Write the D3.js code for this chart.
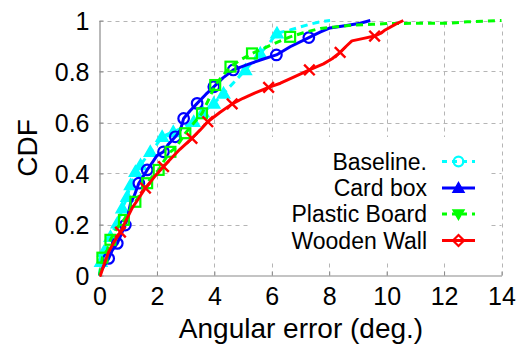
<!DOCTYPE html>
<html>
<head>
<meta charset="utf-8">
<script src="https://cdn.jsdelivr.net/npm/d3@7/dist/d3.min.js"></script>
<style>
  html, body { margin: 0; padding: 0; background: #fff; }
  svg { display: block; }
  text { font-family: "Liberation Sans", Arial, Helvetica, sans-serif; fill: #000; }
</style>
</head>
<body>
<svg id="chart" width="526" height="345"></svg>
<script>
// ---- Data ----
const seriesNames = ["Baseline.", "Card box", "Plastic Board", "Wooden Wall"];
const xTicks = [0, 2, 4, 6, 8, 10, 12, 14];
const yTicks = [0, 0.2, 0.4, 0.6, 0.8, 1];
const yTickLabels = ["0", "0.2", "0.4", "0.6", "0.8", "1"];

const baselineX = [0, 0.05, 0.15, 0.27, 0.38, 0.5, 0.62, 0.72, 0.79, 0.9, 0.96, 1.08, 1.18, 1.25, 1.43, 1.6, 1.77, 2.0, 2.18, 2.4, 2.57, 2.9, 3.28, 3.6, 3.98, 4.32, 4.7, 5.08, 5.35, 5.6, 5.9, 6.18, 6.64, 7.0, 7.34, 7.7, 8.03];
const baselineY = [0, 0.054, 0.093, 0.125, 0.152, 0.18, 0.205, 0.235, 0.264, 0.29, 0.309, 0.355, 0.38, 0.407, 0.433, 0.46, 0.485, 0.515, 0.544, 0.555, 0.563, 0.58, 0.603, 0.64, 0.675, 0.714, 0.76, 0.806, 0.84, 0.871, 0.91, 0.95, 0.963, 0.975, 0.986, 0.995, 1.0];
const baselineMarks = [1, 2, 4, 6, 8, 10, 11, 13, 14, 16, 18, 20, 22, 23, 24, 25, 27, 29, 31];

const cardX = [0, 0.03, 0.17, 0.32, 0.45, 0.62, 0.75, 0.9, 1.0, 1.08, 1.2, 1.37, 1.5, 1.66, 1.85, 2.0, 2.23, 2.4, 2.64, 2.82, 2.93, 3.15, 3.4, 3.7, 3.98, 4.3, 4.66, 5.1, 5.6, 6.16, 6.64, 7.29, 7.7, 8.03, 8.6, 9.08, 9.43];
const cardY = [0, 0.014, 0.04, 0.067, 0.1, 0.126, 0.16, 0.198, 0.24, 0.283, 0.31, 0.362, 0.385, 0.414, 0.445, 0.47, 0.485, 0.515, 0.544, 0.571, 0.616, 0.645, 0.675, 0.71, 0.74, 0.775, 0.806, 0.825, 0.845, 0.865, 0.897, 0.933, 0.955, 0.971, 0.98, 0.989, 1.0];
const cardMarks = [3, 5, 7, 11, 13, 16, 18, 20, 22, 24, 26, 29, 31];

const plasticX = [0, 0.1, 0.27, 0.38, 0.6, 0.85, 1.0, 1.1, 1.25, 1.45, 1.66, 1.85, 2.06, 2.25, 2.47, 2.64, 2.8, 2.99, 3.3, 3.57, 3.8, 4.03, 4.3, 4.56, 4.9, 5.31, 5.8, 6.2, 6.64, 7.1, 7.69, 8.3, 8.83, 9.5, 10.0, 11.0, 12.1, 12.8, 13.4, 14.0];
const plasticY = [0, 0.07, 0.1, 0.14, 0.185, 0.218, 0.245, 0.268, 0.289, 0.325, 0.362, 0.39, 0.414, 0.45, 0.485, 0.5, 0.525, 0.558, 0.6, 0.636, 0.69, 0.747, 0.785, 0.819, 0.845, 0.871, 0.895, 0.915, 0.936, 0.952, 0.969, 0.976, 0.982, 0.985, 0.988, 0.989, 0.989, 0.995, 0.997, 1.0];
const plasticMarks = [1, 3, 5, 8, 10, 12, 14, 17, 19, 21, 23, 25, 28];

const woodenX = [0, 0.03, 0.15, 0.32, 0.5, 0.73, 0.9, 1.14, 1.35, 1.6, 1.9, 2.23, 2.5, 2.8, 3.22, 3.5, 3.77, 4.2, 4.62, 5.0, 5.4, 5.89, 6.3, 6.8, 7.31, 7.8, 8.1, 8.38, 8.6, 8.79, 9.2, 9.58, 9.8, 9.95, 10.3, 10.58];
const woodenY = [0, 0.0, 0.04, 0.093, 0.13, 0.17, 0.21, 0.265, 0.3, 0.343, 0.385, 0.427, 0.46, 0.495, 0.538, 0.57, 0.603, 0.64, 0.673, 0.695, 0.715, 0.738, 0.754, 0.78, 0.806, 0.83, 0.85, 0.875, 0.9, 0.92, 0.93, 0.939, 0.95, 0.963, 0.985, 1.0];
const woodenMarks = [5, 9, 11, 14, 16, 18, 21, 24, 27, 31];

// ---- Setup ----
const svg = d3.select("#chart");
const x = d3.scaleLinear().domain([0, 14]).range([99.5, 501.5]);
const y = d3.scaleLinear().domain([0, 1]).range([275.5, 20.5]);

const series = [
  { name: seriesNames[0], xs: baselineX, ys: baselineY, marks: baselineMarks, color: "#00ffff", dash: "7,5", marker: "triUp", legendMarker: "circle" },
  { name: seriesNames[1], xs: cardX, ys: cardY, marks: cardMarks, color: "#0000ff", dash: null, marker: "circle", legendMarker: "triUp" },
  { name: seriesNames[2], xs: plasticX, ys: plasticY, marks: plasticMarks, color: "#00ff00", dash: "7,5", marker: "square", legendMarker: "triDown" },
  { name: seriesNames[3], xs: woodenX, ys: woodenY, marks: woodenMarks, color: "#ff0000", dash: null, marker: "cross", legendMarker: "diamond" }
];

// ---- Grid ----
const grid = svg.append("g").attr("stroke", "#b5b5b5").attr("stroke-width", 1).attr("stroke-dasharray", "4,4");
grid.selectAll("line.v").data(xTicks.filter(d => d > 0)).enter().append("line")
  .attr("x1", d => Math.round(x(d)) + 0.5).attr("x2", d => Math.round(x(d)) + 0.5)
  .attr("y1", y(0)).attr("y2", y(1));
grid.selectAll("line.h").data(yTicks.filter(d => d > 0)).enter().append("line")
  .attr("y1", d => Math.round(y(d)) + 0.5).attr("y2", d => Math.round(y(d)) + 0.5)
  .attr("x1", x(0)).attr("x2", x(14));

// ---- Axes ----
const xAxis = d3.axisBottom(x).tickValues(xTicks).tickSizeInner(-4).tickSizeOuter(0).tickPadding(12).tickFormat(d3.format("d"));
const yAxis = d3.axisLeft(y).tickValues(yTicks).tickSizeInner(-4).tickSizeOuter(0).tickPadding(10).tickFormat((d, i) => yTickLabels[i]);

const gx = svg.append("g").attr("transform", `translate(0,${y(0)})`).call(xAxis);
const gy = svg.append("g").attr("transform", `translate(${x(0)},0)`).call(yAxis);
[gx, gy].forEach(g => {
  g.select(".domain").attr("stroke", "#8a8a8a").attr("stroke-width", 1.2);
  g.selectAll(".tick line").attr("stroke", "#8a8a8a");
  g.selectAll(".tick text").attr("font-size", 25).attr("font-family", "Liberation Sans, Arial, sans-serif").attr("fill", "#000");
});
gy.selectAll(".tick text").attr("dy", "0.36em");

// ---- Axis titles ----
svg.append("text").attr("x", 301).attr("y", 338).attr("text-anchor", "middle")
  .attr("font-size", 28).text("Angular error (deg.)");
svg.append("text").attr("transform", "translate(37,148) rotate(-90)").attr("text-anchor", "middle")
  .attr("font-size", 28).text("CDF");

// ---- Markers ----
function drawMarker(g, type, cx, cy, color, s) {
  if (type === "circle") {
    g.append("circle").attr("cx", cx).attr("cy", cy).attr("r", s * 0.48)
      .attr("fill", "none").attr("stroke", color).attr("stroke-width", 2.2);
  } else if (type === "triUp") {
    const h = s * 0.55;
    g.append("path").attr("d", `M${cx},${cy - h} L${cx + h},${cy + h * 0.75} L${cx - h},${cy + h * 0.75} Z`)
      .attr("fill", color).attr("stroke", color).attr("stroke-width", 1.5);
  } else if (type === "triDown") {
    const h = s * 0.55;
    g.append("path").attr("d", `M${cx},${cy + h} L${cx + h},${cy - h * 0.75} L${cx - h},${cy - h * 0.75} Z`)
      .attr("fill", color).attr("stroke", color).attr("stroke-width", 1.5);
  } else if (type === "square") {
    const h = s * 0.45;
    g.append("rect").attr("x", cx - h).attr("y", cy - h).attr("width", 2 * h).attr("height", 2 * h)
      .attr("fill", "none").attr("stroke", color).attr("stroke-width", 2.2);
  } else if (type === "diamond") {
    const h = s * 0.55;
    g.append("path").attr("d", `M${cx},${cy - h} L${cx + h},${cy} L${cx},${cy + h} L${cx - h},${cy} Z`)
      .attr("fill", "none").attr("stroke", color).attr("stroke-width", 2.2);
  } else if (type === "cross") {
    const h = s * 0.48;
    g.append("path").attr("d", `M${cx - h},${cy - h} L${cx + h},${cy + h} M${cx - h},${cy + h} L${cx + h},${cy - h}`)
      .attr("fill", "none").attr("stroke", color).attr("stroke-width", 2.4);
  }
}

// ---- Lines ----
const line = d3.line().x(d => x(d[0])).y(d => y(d[1]));
const plot = svg.append("g");
series.forEach(s => {
  const pts = s.xs.map((v, i) => [v, s.ys[i]]);
  const g = plot.append("g");
  g.append("path").attr("d", line(pts)).attr("fill", "none")
    .attr("stroke", s.color).attr("stroke-width", 3)
    .attr("stroke-linejoin", "round")
    .attr("stroke-dasharray", s.dash);
  s.marks.forEach(i => drawMarker(g, s.marker, x(s.xs[i]), y(s.ys[i]), s.color, 11));
});

// ---- Legend ----
const leg = svg.append("g");
leg.append("rect").attr("x", 251).attr("y", 137).attr("width", 238).attr("height", 123).attr("fill", "#fff");
const legY = [161.5, 188, 214, 240.5];
series.forEach((s, i) => {
  const gy0 = legY[i];
  leg.append("text").attr("x", 427).attr("y", gy0).attr("dy", "0.36em").attr("text-anchor", "end")
    .attr("font-size", 23).text(s.name);
  leg.append("line").attr("x1", 442).attr("x2", 475).attr("y1", gy0).attr("y2", gy0)
    .attr("stroke", s.color).attr("stroke-width", 3).attr("stroke-dasharray", s.dash ? "5,5" : null);
  drawMarker(leg, s.legendMarker, 458.5, gy0, s.color, 10);
});
</script>
</body>
</html>
